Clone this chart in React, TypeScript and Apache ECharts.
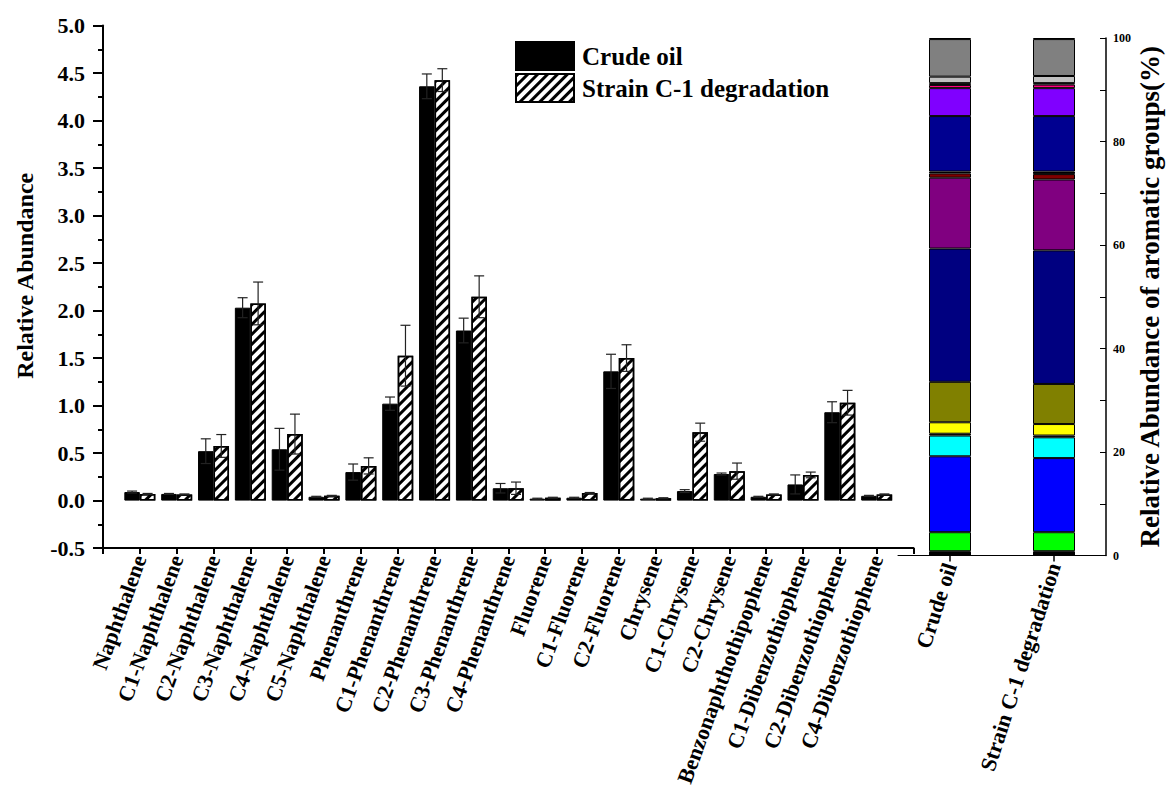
import React, { useEffect, useRef } from 'react';
import * as echarts from 'echarts';

const categories = [
  'Naphthalene', 'C1-Naphthalene', 'C2-Naphthalene', 'C3-Naphthalene', 'C4-Naphthalene',
  'C5-Naphthalene', 'Phenanthrene', 'C1-Phenanthrene', 'C2-Phenanthrene', 'C3-Phenanthrene',
  'C4-Phenanthrene', 'Fluorene', 'C1-Fluorene', 'C2-Fluorene', 'Chrysene', 'C1-Chrysene',
  'C2-Chrysene', 'Benzonaphthothipophene', 'C1-Dibenzothiophene', 'C2-Dibenzothiophene',
  'C4-Dibenzothiophene',
];
const crudeOil = [0.09, 0.07, 0.52, 2.03, 0.54, 0.04, 0.30, 1.02, 4.36, 1.79, 0.13, 0.02, 0.03, 1.36, 0.02, 0.10, 0.28, 0.04, 0.17, 0.93, 0.05];
const crudeOilErr = [0.01, 0.005, 0.13, 0.105, 0.22, 0.005, 0.085, 0.07, 0.13, 0.13, 0.05, 0.005, 0.005, 0.18, 0.005, 0.015, 0.01, 0.005, 0.10, 0.11, 0.005];
const strainC1 = [0.07, 0.065, 0.575, 2.075, 0.70, 0.05, 0.365, 1.525, 4.425, 2.145, 0.13, 0.03, 0.08, 1.50, 0.025, 0.72, 0.31, 0.065, 0.27, 1.03, 0.065];
const strainC1Err = [0.005, 0.005, 0.12, 0.225, 0.21, 0.005, 0.085, 0.32, 0.12, 0.22, 0.065, 0.005, 0.005, 0.14, 0.005, 0.095, 0.085, 0.005, 0.03, 0.13, 0.005];

const groupCategories = ['Crude oil', 'Strain C-1 degradation'];
const segmentColors = ['#000000', '#00ff00', '#0000ff', '#00ffff', '#000000', '#ffff00', '#808000', '#000080', '#800080', '#800000', '#000000', '#000090', '#8000ff', '#ff0080', '#000000', '#c0c0c0', '#808080', '#ffff00'];
const crudeOilShares = [0.83, 3.67, 14.67, 4.01, 0.35, 2.21, 7.82, 25.75, 13.7, 0.83, 0.35, 10.72, 5.4, 0.62, 0.35, 1.25, 7.26, 0.21];
const strainShares = [0.83, 3.67, 14.32, 4.02, 0.34, 2.22, 7.75, 25.81, 13.7, 1.04, 0.49, 10.72, 5.4, 0.69, 0.28, 1.38, 7.13, 0.21];

const FONT = 'Liberation Serif';

export default function App() {
  const ref = useRef<HTMLDivElement>(null);
  useEffect(() => {
    const chart = echarts.init(ref.current!, null, { renderer: 'svg' });
    const xCats = ['', ...categories, ''];
    const BW = 15.5;
    const hatch = {
      symbol: 'rect', symbolSize: 1, color: '#000',
      dashArrayX: [1, 0], dashArrayY: [2.5, 3.5], rotation: -Math.PI / 4,
    };
    const txt = (size: number) => ({ fontFamily: FONT, fontWeight: 'bold', fontSize: size, color: '#000' });
    const errSeries = (vals: number[], errs: number[], offset: number) => ({
      type: 'custom', xAxisIndex: 0, yAxisIndex: 0, z: 5, silent: true,
      data: vals.map((v, i) => [i + 1, v - errs[i], v + errs[i]]),
      renderItem: (params: any, api: any) => {
        const lo = api.coord([api.value(0), api.value(1)]);
        const hi = api.coord([api.value(0), api.value(2)]);
        const x = lo[0] + offset;
        const cap = 5;
        const style = { stroke: '#222', lineWidth: 1.2 };
        return {
          type: 'group', children: [
            { type: 'line', shape: { x1: x, y1: lo[1], x2: x, y2: hi[1] }, style },
            { type: 'line', shape: { x1: x - cap, y1: hi[1], x2: x + cap, y2: hi[1] }, style },
            { type: 'line', shape: { x1: x - cap, y1: lo[1], x2: x + cap, y2: lo[1] }, style },
          ],
        };
      },
    });

    const option: any = {
      animation: false,
      backgroundColor: '#fff',
      textStyle: { fontFamily: FONT },
      legend: {
        data: ['Crude oil', 'Strain C-1 degradation'],
        icon: 'rect',
        orient: 'vertical', left: 510, top: 36, itemWidth: 58, itemHeight: 28, itemGap: 2,
        textStyle: { ...txt(25), padding: [0, 0, 0, 3] }, selectedMode: false,
      },
      grid: [
        { left: 103, top: 25.5, width: 810.5, height: 530 },
        { left: 898, top: 38, width: 208, height: 517.5 },
      ],
      xAxis: [
        {
          type: 'category', gridIndex: 0, data: xCats, boundaryGap: false,
          axisLine: { onZero: false, lineStyle: { color: '#000', width: 2 } },
          axisTick: { show: true, length: 6, interval: 0, lineStyle: { color: '#000', width: 2 } },
          axisLabel: { interval: 0, rotate: 70, margin: 8, ...txt(22) },
          splitLine: { show: false },
        },
        {
          type: 'category', gridIndex: 1, data: groupCategories,
          axisLine: { lineStyle: { color: '#000', width: 1 } },
          axisTick: { show: true, alignWithLabel: true, length: 6, lineStyle: { color: '#000', width: 1.5 } },
          axisLabel: { interval: 0, rotate: 72, margin: 8, ...txt(22) },
          splitLine: { show: false },
        },
      ],
      yAxis: [
        {
          type: 'value', gridIndex: 0, min: -0.5, max: 5, interval: 0.5,
          name: 'Relative Abundance', nameLocation: 'middle', nameGap: 66, nameRotate: 90,
          nameTextStyle: { ...txt(24), padding: [0, 0, 0, 22] },
          axisLine: { show: true, lineStyle: { color: '#000', width: 2 } },
          axisTick: { show: true, length: 10, lineStyle: { color: '#000', width: 2 } },
          minorTick: { show: true, splitNumber: 2, length: 5, lineStyle: { color: '#000', width: 2 } },
          axisLabel: { formatter: (v: number) => v.toFixed(1), margin: 18, ...txt(22) },
          splitLine: { show: false },
        },
        {
          type: 'value', gridIndex: 1, position: 'right', min: 0, max: 100, interval: 20,
          name: 'Relative Abundance of aromatic groups(%)', nameLocation: 'middle', nameGap: 30, nameRotate: 90,
          nameTextStyle: txt(27),
          axisLine: { show: true, lineStyle: { color: '#000', width: 1.5 } },
          axisTick: { show: true, inside: true, length: 6, lineStyle: { color: '#000', width: 1 } },
          minorTick: { show: true, splitNumber: 2, length: 6, lineStyle: { color: '#000', width: 1 } },
          axisLabel: { margin: 7, ...txt(12) },
          splitLine: { show: false },
        },
      ],
      series: [
        {
          type: 'bar', name: 'Crude oil', xAxisIndex: 0, yAxisIndex: 0,
          data: ['-', ...crudeOil, '-'], barWidth: BW, barGap: '0%',
          itemStyle: { color: '#000', borderColor: '#000', borderWidth: 1 },
        },
        {
          type: 'bar', name: 'Strain C-1 degradation', xAxisIndex: 0, yAxisIndex: 0,
          data: ['-', ...strainC1, '-'], barWidth: BW, barGap: '0%',
          itemStyle: { color: '#fff', borderColor: '#000', borderWidth: 1.5, decal: hatch },
        },
        errSeries(crudeOil, crudeOilErr, -BW / 2),
        errSeries(strainC1, strainC1Err, BW / 2),
        ...segmentColors.map((c, k) => ({
          type: 'bar', name: `Group ${k + 1}`, stack: 'share', xAxisIndex: 1, yAxisIndex: 1,
          barWidth: 42, data: [crudeOilShares[k], strainShares[k]],
          itemStyle: { color: c, borderColor: '#000', borderWidth: 1 },
        })),
      ],
    };
    chart.setOption(option);
    return () => chart.dispose();
  }, []);
  return <div ref={ref} style={{ position: 'absolute', left: 0, top: 0, width: 1172, height: 789 }} />;
}
